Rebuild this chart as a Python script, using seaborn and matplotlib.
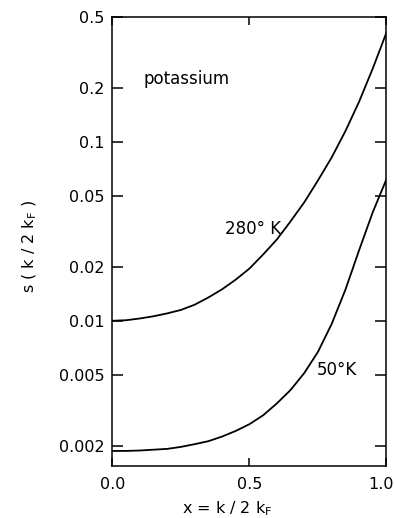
import pandas as pd
import seaborn as sns
import matplotlib.pyplot as plt
import matplotlib.transforms as mtransforms
from matplotlib.ticker import FixedLocator, FixedFormatter

# values (log scale)
x = [0.0, 0.05, 0.1, 0.15, 0.2, 0.25, 0.3, 0.35, 0.4, 0.45, 0.5,
     0.55, 0.6, 0.65, 0.7, 0.75, 0.8, 0.85, 0.9, 0.95, 1.0]
s_280 = [0.0100, 0.01007, 0.0103, 0.0106, 0.0110, 0.0115, 0.0123, 0.0135, 0.0150,
         0.0170, 0.0196, 0.0235, 0.0285, 0.036, 0.046, 0.061, 0.082, 0.115,
         0.168, 0.258, 0.41]
s_50 = [0.00187, 0.00187, 0.00188, 0.0019, 0.00192, 0.00197, 0.00204, 0.00212,
        0.00225, 0.00242, 0.00264, 0.00296, 0.00345, 0.0041, 0.0051, 0.0067, 0.0096,
        0.0149, 0.0248, 0.0405, 0.062]

y_ticks = [0.002, 0.005, 0.01, 0.02, 0.05, 0.1, 0.2, 0.5]
y_tick_labels = ['0.002', '0.005', '0.01', '0.02', '0.05', '0.1', '0.2', '0.5']
x_ticks = [0.0, 0.5, 1.0]
x_tick_labels = ['0.0', '0.5', '1.0']

df = pd.DataFrame({'x': x * 2, 's': s_280 + s_50,
                   'T': ['280'] * len(x) + ['50'] * len(x)})

sns.set_style('ticks')
plt.rcParams['font.family'] = ['DejaVu Sans']
plt.rcParams['text.color'] = 'black'
plt.rcParams['axes.labelcolor'] = 'black'

fig = plt.figure(figsize=(3.94, 5.18), dpi=100)
ax = fig.add_axes([0.2855, 0.1004, 0.6954, 0.8666])

sns.lineplot(data=df, x='x', y='s', units='T', estimator=None, color='black',
             linewidth=1.3, ax=ax, legend=False)

ax.set_yscale('log')
ax.set_xlim(0, 1)
ax.set_ylim(0.00154, 0.5)
ax.yaxis.set_major_locator(FixedLocator(y_ticks))
ax.yaxis.set_major_formatter(FixedFormatter(y_tick_labels))
ax.yaxis.set_minor_locator(FixedLocator([]))
ax.set_xticks(x_ticks)
ax.set_xticklabels(x_tick_labels)

for side in ['top', 'right', 'left', 'bottom']:
    ax.spines[side].set_visible(True)
    ax.spines[side].set_linewidth(1.1)
    ax.spines[side].set_color('black')

ax.tick_params(axis='y', which='major', direction='in', left=True, right=True,
               length=8, width=1.1, labelsize=11.5, pad=6, colors='black')
ax.tick_params(axis='x', which='major', direction='in', top=True, bottom=True,
               length=6, width=1.1, labelsize=11.5, pad=8, colors='black')

# keep the last x label inside the figure
last = ax.get_xticklabels()[-1]
last.set_transform(last.get_transform() +
                   mtransforms.ScaledTranslation(-5 / 100, 0, fig.dpi_scale_trans))

ax.set_xlabel(r'x = k / 2 k$_\mathregular{F}$', fontsize=11.5)
ax.xaxis.set_label_coords(0.42, -0.075)
ax.set_ylabel(r's ( k / 2 k$_\mathregular{F}$ )', fontsize=11.5)
ax.yaxis.set_label_coords(-0.27, 0.49)

ax.text(0.113, 0.225, 'potassium', fontsize=12, va='center')
ax.text(0.41, 0.0326, '280° K', fontsize=12, va='center')
ax.text(0.745, 0.0053, '50°K', fontsize=12, va='center')

fig.savefig('out.png', dpi=100)
